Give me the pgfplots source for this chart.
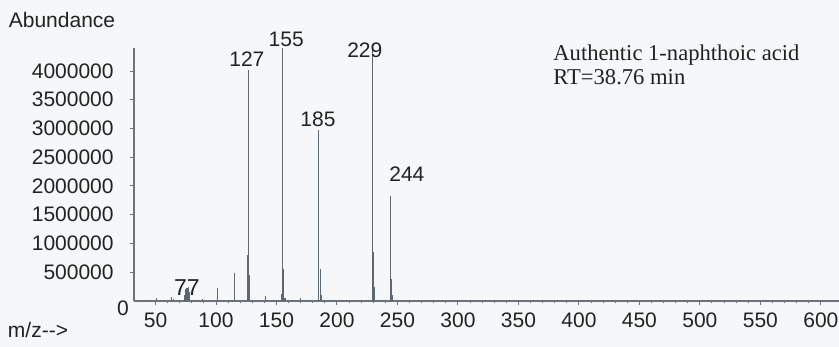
\documentclass[border=0pt]{standalone}
\usepackage{pgfplots}
\pgfplotsset{compat=1.18}
\usepackage{fontspec}
\setmainfont{Liberation Sans}
\newfontfamily\timesfont{Liberation Serif}
\usetikzlibrary{backgrounds}
\definecolor{bg}{HTML}{F5F7F9}
\definecolor{spec}{HTML}{5E6873}
\definecolor{axcol}{HTML}{6A737D}
\definecolor{txt}{HTML}{222222}
\begin{document}
\begin{tikzpicture}[background rectangle/.style={fill=bg}, show background rectangle, inner frame sep=0pt]
\begin{axis}[
  at={(0,0)}, anchor=south west,
  scale only axis, width=352.5pt, height=126.5pt,
  xmin=32.2, xmax=615, ymin=0, ymax=4.40e6,
  axis x line=bottom, axis y line=left,
  axis line style={-, axcol, line width=0.6pt},
  clip=false,
  scaled y ticks=false, scaled x ticks=false,
  xtick={50,100,...,600},
  xticklabels={50,100,150,200,250,300,350,400,450,500,550,600},
  minor x tick num=4,
  ytick={500000,1000000,...,4000000},
  yticklabels={500000,1000000,1500000,2000000,2500000,3000000,3500000,4000000},
  tick align=outside,
  major tick length=2pt, minor tick length=1.2pt,
  every tick/.style={axcol, line width=0.5pt},
  tick label style={font=\fontsize{10.5}{12}\selectfont, text=txt, inner sep=0pt},
  yticklabel style={anchor=east, xshift=-8pt},
  xticklabel style={anchor=north, yshift=-3.5pt},
  /pgf/number format/assume math mode=true,
]
\addplot[ycomb, spec, line width=0.55pt, mark=none] coordinates {
(51,0.05e6) (63,0.07e6) (65,0.04e6)
(74,0.10e6) (75,0.20e6) (76,0.22e6) (77,0.25e6) (78,0.15e6)
(89,0.03e6) (101,0.22e6) (115,0.48e6)
(126,0.80e6) (127,4.02e6) (128,0.45e6)
(141,0.08e6)
(154,0.12e6) (155,4.40e6) (156,0.55e6) (157,0.05e6)
(170,0.05e6)
(185,2.97e6) (186,0.55e6) (187,0.10e6)
(229,4.37e6) (230,0.85e6) (231,0.25e6)
(244,1.83e6) (245,0.38e6) (246,0.10e6)
};
\begin{scope}[every node/.style={font=\fontsize{10.5}{12}\selectfont, text=txt, inner sep=0pt, anchor=base}]
\node at (axis cs:125.5,4.07e6) {127};
\node at (axis cs:158,4.42e6) {155};
\node at (axis cs:184.3,3.03e6) {185};
\node at (axis cs:223,4.24e6) {229};
\node at (axis cs:257.8,2.07e6) {244};
\node[font=\fontsize{11.5}{13}\selectfont] at (axis cs:76,0.10e6) {77};
\end{scope}
\node[font=\fontsize{10.5}{12}\selectfont, text=txt, inner sep=0pt] at ([xshift=-5.5pt,yshift=-3.5pt]rel axis cs:0,0) {0};
\end{axis}
\node[font=\fontsize{10.5}{12}\selectfont, text=txt, inner sep=0pt] at (-36pt,140.5pt) {Abundance};
\node[font=\fontsize{10.5}{12}\selectfont, text=txt, inner sep=0pt] at (-48pt,-14.5pt) {m/z-{}-{}>};
\node[font=\timesfont\fontsize{11.3}{13}\selectfont, text=txt, inner sep=0pt, anchor=west] at (209.5pt,123pt) {Authentic 1-naphthoic acid};
\node[font=\timesfont\fontsize{11.3}{13}\selectfont, text=txt, inner sep=0pt, anchor=west] at (209.5pt,112pt) {RT=38.76 min};
\pgfresetboundingbox
\path[use as bounding box] (-67pt,-23pt) rectangle (352.5pt,150.5pt);
\end{tikzpicture}
\end{document}
